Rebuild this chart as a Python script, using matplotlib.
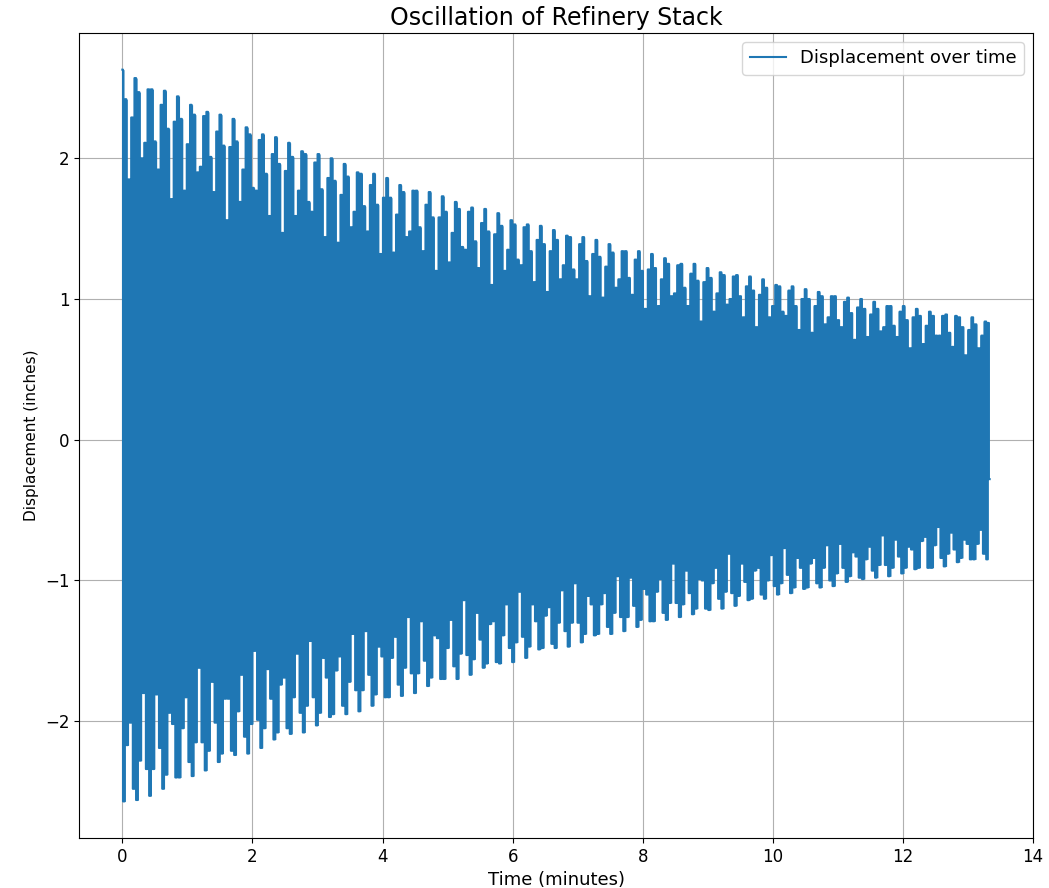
import numpy as np
import matplotlib.pyplot as plt

# upper edge of the trace, read stroke by stroke (inches)
top_vals = [
    2.63, 2.42, 1.85, 2.29, 2.57, 2.47, 2.00, 2.11, 2.49, 2.49,
    2.12, 1.92, 2.38, 2.48, 2.21, 1.71, 2.26, 2.44, 2.28, 1.77,
    2.10, 2.38, 2.31, 1.90, 1.94, 2.30, 2.33, 2.01, 1.76, 2.19,
    2.31, 2.09, 1.56, 2.08, 2.28, 2.12, 1.69, 1.92, 2.22, 2.17,
    1.79, 1.77, 2.13, 2.17, 1.89, 1.59, 2.03, 2.15, 1.96, 1.47,
    1.91, 2.11, 2.01, 1.59, 1.77, 2.05, 2.03, 1.69, 1.62, 1.97,
    2.03, 1.78, 1.44, 1.86, 2.00, 1.84, 1.40, 1.74, 1.96, 1.87,
    1.51, 1.62, 1.90, 1.89, 1.66, 1.48, 1.81, 1.89, 1.67, 1.32,
    1.72, 1.86, 1.72, 1.33, 1.60, 1.81, 1.76, 1.44, 1.48, 1.77,
    1.77, 1.51, 1.34, 1.67, 1.76, 1.58, 1.20, 1.58, 1.73, 1.62,
    1.26, 1.47, 1.69, 1.64, 1.37, 1.35, 1.62, 1.65, 1.41, 1.22,
    1.54, 1.64, 1.48, 1.10, 1.46, 1.61, 1.52, 1.20, 1.35, 1.56,
    1.53, 1.28, 1.24, 1.51, 1.53, 1.34, 1.12, 1.42, 1.52, 1.39,
    1.05, 1.34, 1.49, 1.42,
    1.14, 1.24, 1.45, 1.44, 1.21, 1.14, 1.39, 1.44, 1.27, 1.02,
    1.32, 1.42, 1.30, 1.01, 1.23, 1.39, 1.33, 1.08, 1.14, 1.34,
    1.34, 1.15, 1.03, 1.28, 1.34, 1.20, 0.93, 1.21, 1.32, 1.22,
    0.95, 1.14, 1.29, 1.25, 1.02, 1.04, 1.24, 1.25, 1.08, 0.95,
    1.18, 1.25, 1.13, 0.84, 1.12, 1.22, 1.15, 0.91, 1.04, 1.19,
    1.17, 0.96, 1.00, 1.16, 1.17, 1.02, 0.87, 1.09, 1.16, 1.06,
    0.80, 1.03, 1.14, 1.08, 0.87, 0.95, 1.10, 1.09, 0.91, 0.88,
    1.06, 1.09, 0.95, 0.78, 1.00, 1.07, 1.00, 0.76, 0.95, 1.05,
    1.02, 0.82, 0.87, 1.02, 1.02, 0.85, 0.80, 0.98, 1.01, 0.90,
    0.71, 0.94, 1.00, 0.93, 0.73, 0.89, 0.98, 0.93, 0.77, 0.80,
    0.95, 0.95, 0.81, 0.73, 0.91, 0.95, 0.85, 0.65, 0.87, 0.93,
    0.88, 0.68, 0.81, 0.91, 0.88, 0.74, 0.74, 0.88, 0.89, 0.76,
    0.66, 0.88, 0.87, 0.80, 0.60, 0.78, 0.87, 0.82, 0.65, 0.74,
    0.84, 0.83,
]

# lower edge of the trace (inches)
bottom_vals = [
    -2.57, -2.17, -2.01, -2.48, -2.56, -2.28, -1.80, -2.34, -2.53, -2.34,
    -1.81, -2.19, -2.48, -2.38, -1.94, -2.02, -2.40, -2.40, -2.05, -1.83,
    -2.29, -2.39, -2.15, -1.62, -2.15, -2.35, -2.21, -1.72, -2.01, -2.29,
    -2.23, -1.84, -1.84, -2.21, -2.24, -1.93, -1.67, -2.11, -2.23, -2.02,
    -1.50, -1.99, -2.19, -2.05, -1.63, -1.84, -2.13, -2.08, -1.74, -1.69,
    -2.05, -2.09, -1.83, -1.52, -1.94, -2.08, -1.89, -1.43, -1.83, -2.03,
    -1.94, -1.55, -1.69, -1.97, -1.95, -1.64, -1.54, -1.89, -1.95, -1.72,
    -1.38, -1.78, -1.93, -1.78, -1.36, -1.67, -1.89, -1.81, -1.47, -1.54,
    -1.83, -1.83, -1.55, -1.40, -1.74, -1.82, -1.62, -1.26, -1.66, -1.80,
    -1.66, -1.29, -1.57, -1.75, -1.69, -1.39, -1.41, -1.70, -1.70, -1.48,
    -1.28, -1.61, -1.70, -1.52, -1.14, -1.53, -1.67, -1.56, -1.23, -1.42,
    -1.62, -1.59, -1.31, -1.29, -1.58, -1.59, -1.39, -1.17, -1.48, -1.58,
    -1.44, -1.08, -1.40, -1.55, -1.47, -1.17, -1.29, -1.49, -1.48, -1.25,
    -1.19, -1.45, -1.48, -1.30,
    -1.07, -1.36, -1.47, -1.30, -1.02, -1.30, -1.44, -1.38, -1.11, -1.17,
    -1.39, -1.38, -1.17, -1.09, -1.33, -1.38, -1.23, -0.97, -1.26, -1.36,
    -1.26, -0.98, -1.18, -1.33, -1.28, -1.06, -1.10, -1.29, -1.29, -1.08,
    -0.99, -1.23, -1.28, -1.16, -0.88, -1.16, -1.26, -1.17, -0.93, -1.09,
    -1.24, -1.20, -0.99, -1.00, -1.20, -1.21, -1.02, -0.91, -1.13, -1.20,
    -1.08, -0.81, -1.09, -1.18, -1.11, -0.88, -1.01, -1.14, -1.13, -0.93,
    -0.91, -1.10, -1.13, -1.00, -0.82, -1.04, -1.10, -1.02, -0.77, -0.96,
    -1.09, -1.05, -0.84, -0.91, -1.06, -1.05, -0.88, -0.84, -1.02, -1.05,
    -0.91, -0.75, -1.00, -1.04, -0.95, -0.74, -0.91, -1.01, -0.97, -0.80,
    -0.83, -0.98, -0.99, -0.85, -0.76, -0.93, -0.98, -0.89, -0.68, -0.89,
    -0.97, -0.91, -0.71, -0.83, -0.95, -0.91, -0.76, -0.78, -0.92, -0.91,
    -0.72, -0.69, -0.91, -0.91, -0.75, -0.62, -0.84, -0.90, -0.81, -0.66,
    -0.78, -0.87, -0.84, -0.71, -0.74, -0.85, -0.85, -0.74, -0.64, -0.81,
    -0.85,
]

# time span covered by each edge (minutes) and the final sample
top_span = (0.0, 13.31)
bottom_span = (0.02, 13.30)
end_time = 13.333
end_value = -0.28

t_top = np.linspace(top_span[0], top_span[1], len(top_vals))
t_bot = np.linspace(bottom_span[0], bottom_span[1], len(bottom_vals))

# trace alternates between the upper and lower edge
t_all = np.concatenate([t_top, t_bot])
v_all = np.concatenate([top_vals, bottom_vals])
order = np.argsort(t_all, kind='stable')
t_line = np.append(t_all[order], end_time)
v_line = np.append(v_all[order], end_value)

color = '#1f77b4'

fig = plt.figure(figsize=(10.49, 8.88), dpi=100)
ax = fig.add_axes([0.0753, 0.0563, 0.9095, 0.9065])

# solid body: each edge filled back to zero, stepped like the samples
ax.fill_between(t_top, top_vals, 0, step='mid', color=color, lw=0, zorder=2)
ax.fill_between(t_bot, bottom_vals, 0, step='mid', color=color, lw=0, zorder=2)

ax.plot(t_line, v_line, color=color, lw=1.5, drawstyle='steps-mid',
        label='Displacement over time', zorder=2)

ax.set_xlim(right=14)
ax.set_title('Oscillation of Refinery Stack', fontsize=17)
ax.set_xlabel('Time (minutes)', fontsize=13)
ax.set_ylabel('Displacement (inches)', fontsize=11)
ax.tick_params(labelsize=12)
ax.grid(True)
ax.legend(loc='upper right', fontsize=13)

fig.savefig('out.png', dpi=100)
